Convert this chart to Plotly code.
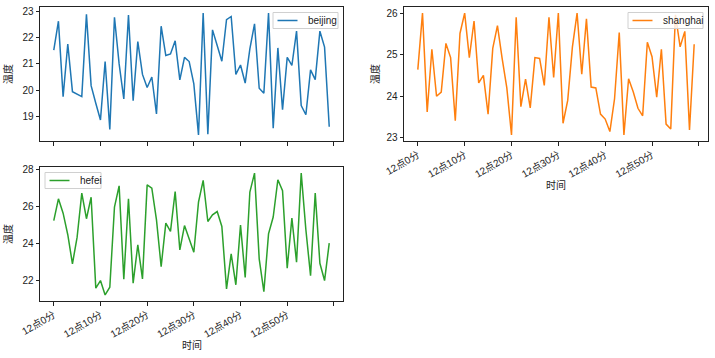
import plotly.graph_objects as go

minutes = list(range(60))
tick_vals = [0, 10, 20, 30, 40, 50, 60]
tick_text = ["12点0分", "12点10分", "12点20分", "12点30分", "12点40分", "12点50分", ""]
cities = ["beijing", "shanghai", "hefei"]

beijing = [21.53, 22.63, 19.75, 21.76, 19.94, 19.85, 19.75, 22.89, 20.17, 19.5,
           18.86, 21.09, 18.5, 22.78, 21.0, 19.66, 22.87, 19.6, 21.85, 20.6,
           20.1, 20.5, 19.09, 22.44, 21.32, 21.38, 21.88, 20.39, 21.25, 21.09,
           20.24, 18.29, 22.94, 18.32, 22.3, 21.7, 21.1, 22.69, 22.81, 20.6,
           20.96, 20.27, 21.57, 22.53, 20.07, 19.88, 22.94, 18.55, 21.61, 19.25,
           21.25, 20.94, 22.25, 19.41, 19.06, 20.77, 20.4, 22.25, 21.64, 18.6]

shanghai = [24.64, 26.0, 23.62, 25.13, 24.0, 24.1, 25.27, 24.93, 23.41, 25.51,
            26.0, 24.93, 25.81, 24.32, 24.5, 23.57, 25.15, 25.7, 24.91, 24.2,
            23.07, 25.9, 23.75, 24.41, 23.72, 24.93, 24.91, 24.26, 25.9, 24.45,
            26.0, 23.35, 23.9, 25.18, 26.0, 24.53, 25.86, 24.22, 24.2, 23.57,
            23.45, 23.15, 23.94, 25.53, 23.07, 24.42, 24.1, 23.71, 23.53, 25.3,
            24.95, 23.98, 25.13, 23.33, 23.21, 25.96, 25.19, 25.56, 23.19, 25.25]

hefei = [25.24, 26.42, 25.64, 24.47, 22.89, 24.34, 26.73, 25.34, 26.51, 21.57,
         21.98, 21.2, 21.62, 25.97, 27.13, 22.05, 26.42, 21.84, 23.92, 22.07,
         27.18, 27.0, 25.28, 22.74, 25.1, 24.65, 26.82, 23.65, 24.97, 24.25,
         23.52, 26.24, 27.42, 25.19, 25.55, 25.73, 24.92, 21.53, 23.43, 21.75,
         25.0, 22.15, 26.79, 27.82, 23.16, 21.38, 24.52, 25.43, 27.46, 26.86,
         22.65, 25.37, 22.98, 27.82, 24.74, 22.25, 26.73, 22.92, 21.98, 24.01]

series = [beijing, shanghai, hefei]
colors = ["#1f77b4", "#ff7f0e", "#2ca02c"]
FONT = "Arial, 'Liberation Sans', 'Noto Sans CJK SC', sans-serif"
TXT = "#222222"
W, H = 715, 358


def pad_range(vals, frac=0.05):
    lo, hi = min(vals), max(vals)
    d = (hi - lo) * frac
    return [lo - d, hi + d]


def px(x):
    return x / W


def py(y):
    return 1 - y / H


axes = ["", "2", "3"]
fig = go.Figure()
for name, vals, col, ax in zip(cities, series, colors, axes):
    fig.add_trace(go.Scatter(x=minutes, y=vals, mode="lines", name=name,
                             line=dict(color=col, width=1.5),
                             xaxis="x" + ax, yaxis="y" + ax, showlegend=False))

xr = pad_range(minutes)

common_x = dict(range=xr, tickmode="array", tickvals=tick_vals, ticktext=tick_text,
                tickangle=-30, showline=True, mirror=True, linecolor=TXT,
                linewidth=1, ticks="outside", ticklen=3.5, tickcolor=TXT,
                showgrid=False, zeroline=False, tickfont=dict(size=10, color=TXT),
                automargin=False)
common_y = dict(showline=True, mirror=True, linecolor=TXT, linewidth=1,
                ticks="outside", ticklen=3.5, tickcolor=TXT, showgrid=False,
                zeroline=False, tickfont=dict(size=10, color=TXT), automargin=False)

# plot areas in pixels: (left, right, top, bottom)
areas = [(40, 343, 7, 141), (404, 708, 7, 141), (40, 343, 167, 301)]

fig.update_layout(
    width=W, height=H,
    margin=dict(l=0, r=0, t=0, b=0),
    paper_bgcolor="white", plot_bgcolor="white",
    font=dict(family=FONT, size=10, color=TXT),
    showlegend=False,
    xaxis=dict(domain=[px(40), px(343)], anchor="y", showticklabels=False, **common_x),
    yaxis=dict(domain=[py(141), py(7)], anchor="x", range=pad_range(beijing),
               tickvals=[19, 20, 21, 22, 23], **common_y),
    xaxis2=dict(domain=[px(404), px(708)], anchor="y2", **common_x),
    yaxis2=dict(domain=[py(141), py(7)], anchor="x2", range=pad_range(shanghai),
                tickvals=[23, 24, 25, 26], **common_y),
    xaxis3=dict(domain=[px(40), px(343)], anchor="y3", **common_x),
    yaxis3=dict(domain=[py(301), py(167)], anchor="x3", range=pad_range(hefei),
                tickvals=[22, 24, 26, 28], **common_y),
)

annotations = []
shapes = []

# y-axis titles
for (l, r, t, b), xpos in zip(areas, [8, 375, 8]):
    annotations.append(dict(text="温度", x=px(xpos), y=py((t + b) / 2), xref="paper",
                            yref="paper", showarrow=False, textangle=-90,
                            font=dict(size=10, color=TXT), xanchor="center",
                            yanchor="middle"))
# x-axis titles (bottom row subplots)
for (l, r, t, b), ypos in zip(areas[1:], [185, 345]):
    annotations.append(dict(text="时间", x=px((l + r) / 2), y=py(ypos), xref="paper",
                            yref="paper", showarrow=False,
                            font=dict(size=10, color=TXT), xanchor="center",
                            yanchor="middle"))

# legends: boxes (left, right, top, bottom) in pixels
legend_boxes = [(273, 338, 12.5, 28.5), (628, 703, 12.5, 28.5), (45, 101, 172.5, 188.5)]
for name, col, (l, r, t, b) in zip(cities, colors, legend_boxes):
    shapes.append(dict(type="rect", xref="paper", yref="paper",
                       x0=px(l), x1=px(r), y0=py(b), y1=py(t),
                       line=dict(color="#d0d0d0", width=1),
                       fillcolor="rgba(255,255,255,0.8)", layer="above"))
    ym = (t + b) / 2
    shapes.append(dict(type="line", xref="paper", yref="paper",
                       x0=px(l + 4.5), x1=px(l + 24.5), y0=py(ym), y1=py(ym),
                       line=dict(color=col, width=1.5), layer="above"))
    annotations.append(dict(text=name, x=px(l + 32.5), y=py(ym), xref="paper",
                            yref="paper", showarrow=False, xanchor="left",
                            yanchor="middle", font=dict(size=10, color=TXT)))

fig.update_layout(annotations=annotations, shapes=shapes)

fig.write_html(
    "out.html",
    config={"displayModeBar": False, "staticPlot": True},
    post_script="document.body.style.margin='0';document.body.style.padding='0';"
                "document.body.style.overflow='hidden';",
)
